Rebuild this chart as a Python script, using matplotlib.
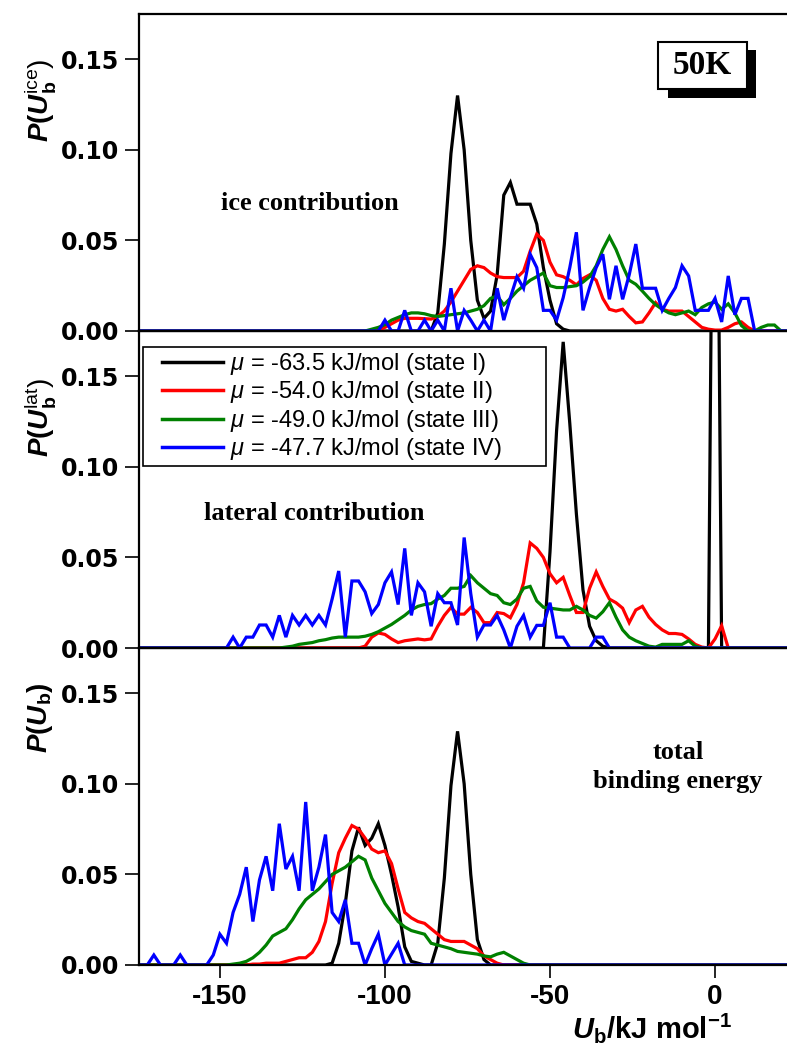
import numpy as np
import matplotlib
matplotlib.use("Agg")
import matplotlib.pyplot as plt
from matplotlib.patches import Rectangle
from matplotlib.lines import Line2D
from matplotlib.legend_handler import HandlerLine2D

plt.rcParams['mathtext.fontset'] = 'custom'
plt.rcParams['mathtext.rm'] = 'Liberation Sans'
plt.rcParams['mathtext.it'] = 'Liberation Sans:italic'
plt.rcParams['mathtext.bf'] = 'Liberation Sans:bold'
plt.rcParams['mathtext.bfit'] = 'Liberation Sans:italic:bold'

# ---------------- data (bin width 2 kJ/mol) ----------------
x_grid = np.arange(-176, 26, 2)

# ice contribution
ice_black_start = -86
ice_black = [0, 0.010, 0.048, 0.098, 0.130, 0.100, 0.050, 0.017, 0.007, 0.011, 0.031,
             0.075, 0.082, 0.070, 0.070, 0.070, 0.059, 0.035, 0.017, 0.004, 0.001, 0]
ice_red_start = -104
ice_red = [0, 0.0005, 0.002, 0.004, 0.006, 0.007, 0.007, 0.007, 0.0068, 0.0066, 0.008,
           0.011, 0.016, 0.022, 0.028, 0.034, 0.036, 0.035, 0.032, 0.030, 0.0295, 0.0295,
           0.0295, 0.033, 0.044, 0.0535, 0.050, 0.038, 0.031, 0.030, 0.028, 0.0255, 0.029,
           0.031, 0.028, 0.018, 0.012, 0.011, 0.012, 0.008, 0.0045, 0.005, 0.010, 0.0157,
           0.012, 0.011, 0.011, 0.011, 0.008, 0.005, 0.002, 0.001, 0.0005, 0.0005, 0.002,
           0.004, 0.005, 0.002, 0]
ice_green_start = -106
ice_green = [0, 0.001, 0.002, 0.0035, 0.006, 0.0075, 0.009, 0.010, 0.010, 0.0095, 0.0085,
             0.008, 0.0085, 0.009, 0.0095, 0.010, 0.011, 0.012, 0.014, 0.018, 0.0194, 0.0145,
             0.018, 0.022, 0.025, 0.028, 0.030, 0.032, 0.025, 0.024, 0.024, 0.0245, 0.025,
             0.027, 0.030, 0.036, 0.045, 0.052, 0.045, 0.036, 0.028, 0.0258, 0.022, 0.018,
             0.0145, 0.012, 0.010, 0.009, 0.010, 0.011, 0.009, 0.013, 0.015, 0.016, 0.012,
             0.015, 0.010, 0.003, 0, 0, 0.002, 0.0033, 0.0033, 0]
ice_blue_start = -102
ice_blue = [0, 0.006, 0, 0, 0.0114, 0, 0, 0.006, 0, 0.006, 0, 0.0236, 0, 0.0114, 0.006, 0,
            0.006, 0, 0.0236, 0.006, 0.0184, 0.030, 0.0236, 0.0424, 0.035, 0.0114, 0.0114,
            0.006, 0.0184, 0.035, 0.0545, 0.0114, 0.024, 0.035, 0.0424, 0.0175, 0.036,
            0.0175, 0.031, 0.048, 0.0236, 0.0236, 0.0236, 0.0114, 0.018, 0.024, 0.036,
            0.0304, 0.0114, 0.0114, 0.0114, 0.018, 0.005, 0.0304, 0.009, 0.018, 0.018, 0]

# lateral contribution
lat_black_start = -52
lat_black = [0, 0.053, 0.12, 0.169, 0.124, 0.074, 0.032, 0.012, 0.004, 0.001,
             0, 0, 0, 0, 0, 0, 0, 0, 0, 0, 0, 0, 0, 0, 0, 0, 0.45, 0]
lat_red_start = -108
lat_red = [0, 0.001, 0.006, 0.0083, 0.0075, 0.005, 0.003, 0.004, 0.0045, 0.005, 0.0045,
           0.005, 0.012, 0.018, 0.0224, 0.0187, 0.0187, 0.0224, 0.0196, 0.014, 0.014, 0.0196,
           0.019, 0.0167, 0.024, 0.036, 0.058, 0.055, 0.050, 0.041, 0.036, 0.039, 0.029,
           0.0196, 0.0196, 0.033, 0.042, 0.034, 0.027, 0.025, 0.022, 0.014, 0.021, 0.023,
           0.017, 0.013, 0.010, 0.008, 0.008, 0.0075, 0.005, 0.002, 0.0005, 0, 0.005,
           0.0123, 0]
lat_green_start = -132
lat_green = [0, 0.0005, 0.001, 0.002, 0.0025, 0.003, 0.004, 0.0046, 0.0055, 0.006, 0.006,
             0.006, 0.006, 0.0065, 0.0075, 0.009, 0.011, 0.013, 0.0155, 0.018, 0.021, 0.023,
             0.024, 0.0245, 0.027, 0.029, 0.033, 0.033, 0.034, 0.040, 0.036, 0.033, 0.030,
             0.029, 0.025, 0.024, 0.027, 0.033, 0.034, 0.026, 0.0225, 0.022, 0.0215, 0.021,
             0.021, 0.023, 0.021, 0.018, 0.0165, 0.020, 0.025, 0.017, 0.010, 0.006, 0.004,
             0.0025, 0.001, 0.0005, 0.002, 0.002, 0.002, 0.002, 0.004, 0.001, 0]
lat_blue_start = -148
lat_blue = [0, 0.006, 0, 0.006, 0.006, 0.0127, 0.0127, 0.006, 0.018, 0.006, 0.018, 0.0127,
            0.018, 0.0127, 0.018, 0.0127, 0.027, 0.0425, 0.006, 0.037, 0.037, 0.031, 0.019,
            0.024, 0.036, 0.042, 0.024, 0.055, 0.018, 0.036, 0.031, 0.012, 0.030, 0.025,
            0.025, 0.0127, 0.061, 0.030, 0.006, 0.0127, 0.0127, 0.018, 0.010, 0, 0.012,
            0.018, 0.006, 0.0125, 0.0125, 0.025, 0.006, 0.006, 0, 0, 0, 0, 0.006, 0.006, 0]

# total binding energy
tot_black_start = -118
tot_black = [0, 0.001, 0.012, 0.034, 0.063, 0.076, 0.066, 0.070, 0.078, 0.066, 0.050,
             0.032, 0.010, 0.002, 0.001, 0, 0, 0.012, 0.048, 0.099, 0.129, 0.100, 0.050,
             0.014, 0.003, 0]
tot_red_start = -144
tot_red = [0, 0, 0.0005, 0.0005, 0.001, 0.001, 0.001, 0.002, 0.003, 0.004, 0.004, 0.007,
           0.013, 0.024, 0.045, 0.062, 0.070, 0.077, 0.075, 0.070, 0.064, 0.062, 0.063,
           0.056, 0.042, 0.029, 0.026, 0.024, 0.023, 0.020, 0.017, 0.014, 0.013, 0.013,
           0.013, 0.011, 0.009, 0.005, 0.003, 0.001, 0]
tot_green_start = -148
tot_green = [0, 0.0005, 0.001, 0.002, 0.004, 0.007, 0.011, 0.016, 0.018, 0.020, 0.025,
             0.031, 0.036, 0.039, 0.042, 0.046, 0.050, 0.052, 0.054, 0.057, 0.060, 0.058,
             0.048, 0.041, 0.034, 0.029, 0.024, 0.021, 0.019, 0.018, 0.017, 0.012, 0.011,
             0.010, 0.009, 0.0075, 0.007, 0.0065, 0.006, 0.005, 0.0045, 0.006, 0.007, 0.005,
             0.003, 0.001, 0]
tot_blue_start = -174
tot_blue = [0, 0, 0.0055, 0, 0, 0, 0.0055, 0, 0, 0, 0, 0.0055, 0.017, 0.012, 0.029, 0.039,
            0.054, 0.024, 0.047, 0.060, 0.041, 0.078, 0.053, 0.060, 0.041, 0.090, 0.041,
            0.054, 0.072, 0.029, 0.024, 0.036, 0.012, 0.012, 0, 0.009, 0.017, 0, 0.006,
            0.012, 0]

labels = ['$\\mu$ = -63.5 kJ/mol (state I)',
          '$\\mu$ = -54.0 kJ/mol (state II)',
          '$\\mu$ = -49.0 kJ/mol (state III)',
          '$\\mu$ = -47.7 kJ/mol (state IV)']
colors = ['#000000', '#ff0000', '#008000', '#0000ff']

yticks = [0.0, 0.05, 0.10, 0.15]
ytick_labels = ['0.00', '0.05', '0.10', '0.15']
xticks = [-150, -100, -50, 0]
xtick_labels = ['-150', '-100', '-50', '0']


def on_grid(start, vals):
    y = np.zeros_like(x_grid, dtype=float)
    i0 = int((start - x_grid[0]) // 2)
    y[i0:i0 + len(vals)] = vals
    return y


W, H = 787, 1048
fig = plt.figure(figsize=(W / 100, H / 100), dpi=100)

left = 139 / W
width = 1 - left
bot = 1 - 965 / H
top = 1 - 14 / H
ph = (top - bot) / 3

ax_tot = fig.add_axes([left, bot, width, ph])
ax_lat = fig.add_axes([left, bot + ph, width, ph])
ax_ice = fig.add_axes([left, bot + 2 * ph, width, ph])

panels = [
    (ax_ice, [(ice_black_start, ice_black), (ice_red_start, ice_red),
              (ice_green_start, ice_green), (ice_blue_start, ice_blue)]),
    (ax_lat, [(lat_black_start, lat_black), (lat_red_start, lat_red),
              (lat_green_start, lat_green), (lat_blue_start, lat_blue)]),
    (ax_tot, [(tot_black_start, tot_black), (tot_red_start, tot_red),
              (tot_green_start, tot_green), (tot_blue_start, tot_blue)]),
]

handles = None
for ax, series in panels:
    hs = []
    for (s, v), c in zip(series, colors):
        h, = ax.plot(x_grid, on_grid(s, v), color=c, lw=2.3, solid_joinstyle='miter')
        hs.append(h)
    if ax is ax_lat:
        handles = hs
    ax.set_xlim(-174.5, 21.8)
    ax.set_ylim(0, 0.175)
    ax.spines['right'].set_visible(False)
    for sp in ['left', 'top', 'bottom']:
        ax.spines[sp].set_linewidth(1.6)
    ax.set_yticks(yticks)
    ax.set_yticklabels(ytick_labels, fontfamily='DejaVu Sans', fontweight='bold',
                       fontsize=17)
    ax.tick_params(axis='y', direction='out', length=10, width=1.2, pad=4)
    ax.set_xticks(xticks)
    if ax is ax_tot:
        ax.set_xticklabels(xtick_labels, fontfamily='Liberation Sans',
                           fontweight='bold', fontsize=20)
        ax.tick_params(axis='x', direction='out', length=9, width=1.2, pad=5)
    else:
        ax.tick_params(axis='x', bottom=False, labelbottom=False)

# legend
leg = ax_lat.legend(handles, labels, loc='upper left',
                    bbox_to_anchor=(0.006, 0.95, 0.622, 0), mode='expand',
                    borderaxespad=0, prop={'family': 'Liberation Sans', 'size': 17},
                    handlelength=3.2, handletextpad=0.3, labelspacing=0.1,
                    borderpad=0.18, fancybox=False, framealpha=1, edgecolor='black',
                    handler_map={Line2D: HandlerLine2D(xpad=0.65)})
leg.get_frame().set_linewidth(1.2)
for ln in leg.get_lines():
    ln.set_linewidth(2.5)

# panel annotations
fig.text(310 / W, 1 - 203 / H, 'ice contribution', family='Liberation Serif',
         weight='bold', fontsize=19, ha='center', va='center')
fig.text(314 / W, 1 - 513 / H, 'lateral contribution', family='Liberation Serif',
         weight='bold', fontsize=19, ha='center', va='center')
fig.text(678 / W, 1 - 767 / H, 'total\nbinding energy', family='Liberation Serif',
         weight='bold', fontsize=19, ha='center', va='center', linespacing=1.35)

# y labels
fig.text(40 / W, 1 - 100 / H, r'$\mathbfit{P}\mathbf{(}\mathbfit{U}_{\mathbf{b}}^{\mathrm{ice}}\mathrm{)}$',
         rotation=90, fontsize=20, ha='center', va='center')
fig.text(40 / W, 1 - 418 / H, r'$\mathbfit{P}\mathbf{(}\mathbfit{U}_{\mathbf{b}}^{\mathrm{lat}}\mathrm{)}$',
         rotation=90, fontsize=20, ha='center', va='center')
fig.text(40 / W, 1 - 718 / H, r'$\mathbfit{P}\mathbf{(}\mathbfit{U}_{\mathbf{b}}\mathbf{)}$',
         rotation=90, fontsize=20, ha='center', va='center')

# x label
fig.text(652 / W, 1 - 1038 / H, r'$\mathbfit{U}_{\mathbf{b}}\mathbf{/kJ\ mol^{-1}}$',
         fontsize=21, ha='center', va='baseline')

# 50K box with drop shadow
def px_rect(x0, y0, x1, y1, **kw):
    return Rectangle((x0 / W, 1 - y1 / H), (x1 - x0) / W, (y1 - y0) / H,
                     transform=fig.transFigure, **kw)

fig.add_artist(px_rect(668, 50, 756, 98, facecolor='black', edgecolor='none'))
fig.add_artist(px_rect(658, 42, 747, 89, facecolor='white', edgecolor='black', lw=1.5))
fig.text(702 / W, 1 - 66 / H, '50K', family='Liberation Serif', weight='bold',
         fontsize=24, ha='center', va='center')

fig.savefig('out.png', dpi=100)
